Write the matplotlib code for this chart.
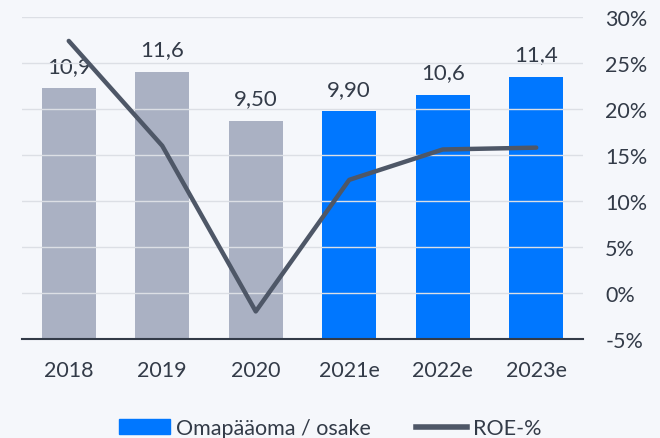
import matplotlib.pyplot as plt
from matplotlib.patches import Patch
from matplotlib.lines import Line2D

years = ["2018", "2019", "2020", "2021e", "2022e", "2023e"]
equity_per_share = [10.9, 11.6, 9.50, 9.90, 10.6, 11.4]
equity_labels = ["10,9", "11,6", "9,50", "9,90", "10,6", "11,4"]
roe = [27.4, 16.0, -2.0, 12.3, 15.6, 15.8]
roe_ticks = [-5, 0, 5, 10, 15, 20, 25, 30]

bg = "#f5f7fb"
grey = "#aab1c3"
blue = "#0077ff"
dark = "#4e5767"
text_c = "#333b48"

plt.rcParams['font.family'] = ['Lato', 'DejaVu Sans']

fig = plt.figure(figsize=(6.6, 4.39), dpi=100, facecolor=bg)
ax = fig.add_axes([22 / 660, 99 / 439, 561 / 660, 322 / 439])
ax.set_facecolor(bg)
ax2 = ax.twinx()

x = list(range(len(years)))
colors = [grey] * 3 + [blue] * 3
ax.bar(x, equity_per_share, width=0.58, color=colors, zorder=2)
for xi, v, lab in zip(x, equity_per_share, equity_labels):
    ax.text(xi, v + 0.55, lab, ha="center", va="bottom", fontsize=16, color=text_c)
ax.set_ylim(0, 14)
ax.set_xlim(-0.5, 5.5)
ax.set_yticks([])
ax.set_xticks(x)
ax.set_xticklabels(years, fontsize=15.5, color=text_c)
ax.tick_params(axis="x", length=0, pad=15)

ax2.plot(x, roe, color=dark, lw=3.2, solid_capstyle="round", zorder=3)
ax2.set_ylim(-5, 30)
ax2.set_yticks(roe_ticks)
ax2.set_yticklabels([f"{t}%" for t in roe_ticks], fontsize=15.5, color=text_c)
ax2.tick_params(axis="y", length=0, pad=16)
for t in roe_ticks[1:]:
    ax2.axhline(t, color="#dcdfe5", lw=1, zorder=0)

ax.set_zorder(ax2.get_zorder() - 1)
ax2.patch.set_visible(False)
for a in (ax, ax2):
    for s in a.spines.values():
        s.set_visible(False)
ax.spines["bottom"].set_visible(True)
ax.spines["bottom"].set_color("#333b48")
ax.spines["bottom"].set_linewidth(1.5)

handles = [Patch(color=blue, label="Omapääoma / osake"),
           Line2D([0], [0], color=dark, lw=4, label="ROE-%")]
fig.legend(handles=handles, loc="lower center", bbox_to_anchor=(0.5, -0.045), ncol=2,
           frameon=False, fontsize=15.5, labelcolor=text_c, handlelength=2.4,
           handleheight=0.7, handletextpad=0.25, columnspacing=2.1)

fig.savefig("out.png", dpi=100, facecolor=bg)
